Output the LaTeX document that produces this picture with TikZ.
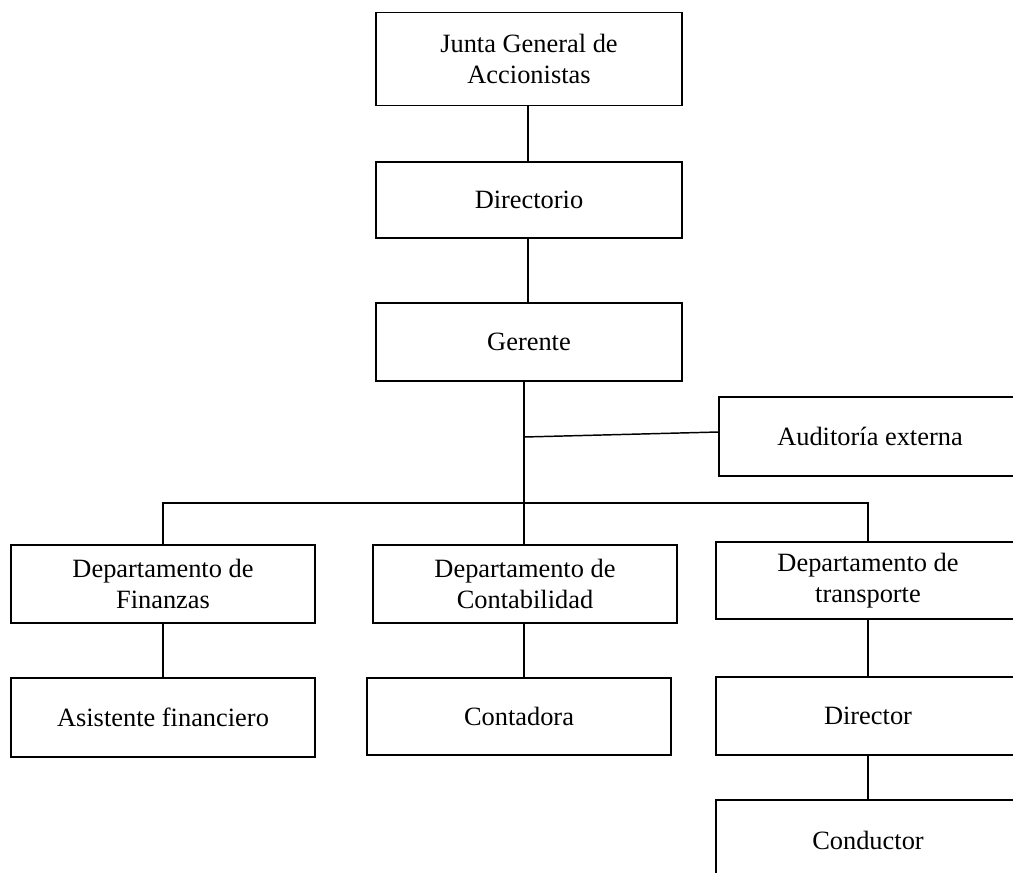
\documentclass[tikz,border=0pt]{standalone}
\usepackage{fontspec}
\setmainfont{Liberation Serif}
\begin{document}
\begin{tikzpicture}[x=0.75pt,y=-0.75pt,
  line width=1.1pt,
  orgbox/.style={draw, rectangle, align=center, inner sep=0pt,
    minimum width=228pt, minimum height=58.5pt,
    font=\fontsize{19.8}{23.5}\selectfont},
  link/.style={draw, line cap=rect}]
\useasboundingbox (0,0) rectangle (1013,872);
\clip (0,0) rectangle (1013,872);

% top of the chart
\node[orgbox, minimum width=229.5pt, minimum height=69.75pt] (junta) at (529,59) {Junta General de\\Accionistas};
\node[orgbox, minimum width=229.5pt, minimum height=57pt] (dir) at (529,200) {Directorio};
\node[orgbox, minimum width=229.5pt] (ger) at (529,342) {Gerente};

% staff unit
\node[orgbox, minimum width=226.5pt, minimum height=59.25pt] (aud) at (870,436.5) {Auditoría externa};

% departments
\node[orgbox] (fin) at (163,584) {Departamento de\\Finanzas};
\node[orgbox] (cont) at (525,584) {Departamento de\\Contabilidad};
\node[orgbox, minimum height=57.75pt] (trans) at (868,580.5) {Departamento de\\transporte};

% staff under each department
\node[orgbox, minimum height=59.25pt] (asis) at (163,717.5) {Asistente financiero};
\node[orgbox, minimum height=57.75pt] (conta) at (519,716.5) {Contadora};
\node[orgbox] (dirt) at (868,716) {Director};
\node[orgbox, minimum height=60pt] (cond) at (868,840) {Conductor};

% junction points of the trunk
\coordinate (trunk) at (524,503);
\coordinate (audj) at (524,437);
\coordinate (barl) at (163,503);
\coordinate (barr) at (868,503);
\coordinate (topx) at (528,0);

% connectors
\draw[link] (junta.south -| topx) -- (dir.north -| topx);
\draw[link] (dir.south -| topx) -- (ger.north -| topx);
\draw[link] (ger.south -| trunk) -- (cont.north -| trunk);
\draw[link] (audj) -- (aud.west |- 0,432);
\draw[link] (barl) -- (barr);
\draw[link] (barl) -- (fin.north -| barl);
\draw[link] (barr) -- (trans.north -| barr);
\draw[link] (fin.south -| barl) -- (asis.north -| barl);
\draw[link] (cont.south -| trunk) -- (conta.north -| trunk);
\draw[link] (trans.south -| barr) -- (dirt.north -| barr);
\draw[link] (dirt.south -| barr) -- (cond.north -| barr);
\end{tikzpicture}
\end{document}
